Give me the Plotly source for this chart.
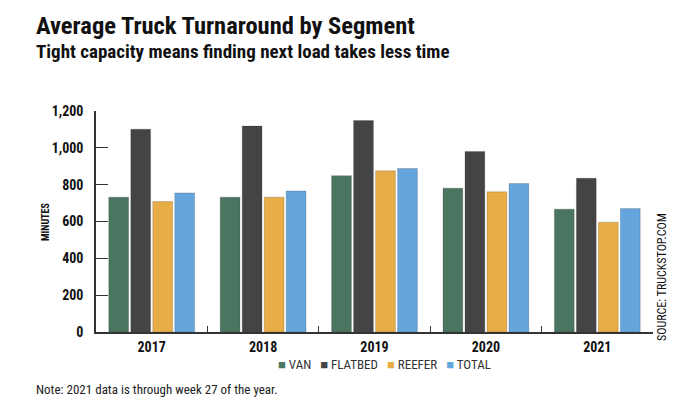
import plotly.graph_objects as go

years = ["2017", "2018", "2019", "2020", "2021"]
series_names = ["VAN", "FLATBED", "REEFER", "TOTAL"]
van = [732, 732, 849, 781, 667]
flatbed = [1101, 1118, 1148, 980, 835]
reefer = [708, 732, 875, 761, 596]
total = [755, 766, 888, 806, 670]
colors = ["#4a7560", "#444446", "#e8ad47", "#63a5dc"]
y_ticks = [0, 200, 400, 600, 800, 1000, 1200]

FONT = "Roboto Condensed, Open Sans Condensed, sans-serif"
INK = "#111111"

fig = go.Figure()
for name, vals, col in zip(series_names, [van, flatbed, reefer, total], colors):
    fig.add_trace(go.Bar(
        x=years, y=vals, name=name,
        marker=dict(color=col, line=dict(color="rgba(40,40,40,0.35)", width=0.6)),
        showlegend=False,
    ))

legend_html = "   ".join(
    f"<span style='color:{c}'>■</span> {n}" for n, c in zip(series_names, colors)
)

# plot area: x 96..653, y 111..332
def px_x(px):
    return (px - 96) / 557

def px_y(py):
    return (332 - py) / 221

anns = [
    dict(text="<b>Average Truck Turnaround by Segment</b>", x=px_x(34), xanchor="left",
         y=px_y(25), yanchor="middle", font=dict(size=24.5, family=FONT, color=INK)),
    dict(text="<b>Tight capacity means finding next load takes less time</b>",
         x=px_x(34), xanchor="left", y=px_y(51), yanchor="middle",
         font=dict(size=19, family=FONT, color=INK)),
    dict(text="<b>MINUTES</b>", x=px_x(45), xanchor="center", y=px_y(222),
         yanchor="middle", textangle=-90, font=dict(size=10, family=FONT, color=INK)),
    dict(text="SOURCE: TRUCKSTOP.COM", x=px_x(662), xanchor="center", y=px_y(277),
         yanchor="middle", textangle=-90, font=dict(size=12, family=FONT, color=INK)),
    dict(text=legend_html, x=px_x(385), xanchor="center", y=px_y(364), yanchor="middle",
         font=dict(size=13, family=FONT, color="#333333")),
    dict(text="Note: 2021 data is through week 27 of the year.", x=px_x(34),
         xanchor="left", y=px_y(389), yanchor="middle",
         font=dict(size=13, family=FONT, color="#222222")),
]
for a in anns:
    a.update(xref="paper", yref="paper", showarrow=False)

fig.update_layout(
    width=684, height=410,
    margin=dict(l=96, r=31, t=111, b=78, autoexpand=False),
    paper_bgcolor="white", plot_bgcolor="white",
    barmode="group", bargap=0.21, bargroupgap=0.1,
    font=dict(family=FONT, color=INK),
    xaxis=dict(
        type="category", showline=True, linecolor="#333333", linewidth=1.5,
        ticks="inside", tickson="boundaries", ticklen=6, tickcolor="#333333",
        tickwidth=1.2, showgrid=False, ticklabelstandoff=1,
        tickfont=dict(family=FONT, size=14, color=INK, weight="bold"),
    ),
    yaxis=dict(
        range=[0, 1200], tickvals=y_ticks, tickformat=",d",
        showline=True, linecolor="#333333", linewidth=1.5,
        ticks="inside", ticklen=12, tickcolor="#333333", tickwidth=1.2,
        showgrid=False, zeroline=False, ticklabelstandoff=8,
        tickfont=dict(family=FONT, size=14, color=INK, weight="bold"),
    ),
    annotations=anns,
)

fig.write_html("out.html", config={"displayModeBar": False},
               post_script="document.body.style.margin='0';")
